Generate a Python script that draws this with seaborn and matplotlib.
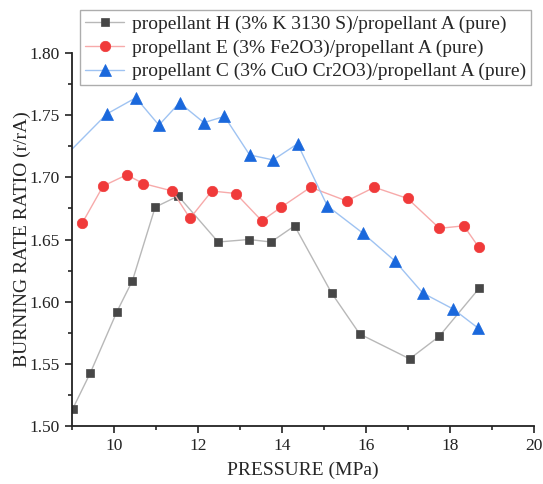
import matplotlib
matplotlib.use("Agg")
import matplotlib.pyplot as plt
import seaborn as sns
import pandas as pd
from matplotlib.ticker import MultipleLocator

sns.set_theme(style="ticks")
plt.rcParams['font.family'] = ['Liberation Serif', 'DejaVu Serif']

# Data
h_x = [9.02, 9.44, 10.07, 10.44, 10.98, 11.53, 12.48, 13.21, 13.74, 14.30, 15.18, 15.85, 17.04, 17.74, 18.70]
h_y = [1.514, 1.543, 1.592, 1.617, 1.676, 1.685, 1.648, 1.650, 1.648, 1.661, 1.607, 1.574, 1.554, 1.572, 1.611]

e_x = [9.24, 9.74, 10.30, 10.70, 11.39, 11.81, 12.33, 12.90, 13.52, 13.98, 14.68, 15.54, 16.20, 16.99, 17.75, 18.33, 18.68]
e_y = [1.663, 1.693, 1.702, 1.695, 1.689, 1.667, 1.689, 1.687, 1.665, 1.676, 1.692, 1.681, 1.692, 1.683, 1.659, 1.661, 1.644]

c_x = [8.60, 9.83, 10.52, 11.07, 11.56, 12.14, 12.63, 13.23, 13.79, 14.37, 15.08, 15.93, 16.68, 17.35, 18.08, 18.66]
c_y = [1.709, 1.751, 1.764, 1.742, 1.760, 1.744, 1.749, 1.718, 1.714, 1.727, 1.677, 1.655, 1.633, 1.607, 1.594, 1.579]

labels = ["propellant H (3% K 3130 S)/propellant A (pure)",
          "propellant E (3% Fe2O3)/propellant A (pure)",
          "propellant C (3% CuO Cr2O3)/propellant A (pure)"]

fig = plt.figure(figsize=(5.43, 4.84), dpi=100)
ax = fig.add_axes([0.1326, 0.1198, 0.8508, 0.7707])

series = [
    (h_x, h_y, labels[0], "s", "#474747", "#b8b8b8", 6),
    (e_x, e_y, labels[1], "o", "#f03a3a", "#f7aaaa", 7.5),
    (c_x, c_y, labels[2], "^", "#1a68dc", "#9fc3f2", 8.2),
]
for xs, ys, lab, mk, mc, lc, ms in series:
    df = pd.DataFrame({"x": xs, "y": ys})
    sns.lineplot(data=df, x="x", y="y", ax=ax, color=lc, lw=1.0, sort=False,
                 marker=mk, markersize=ms, markerfacecolor=mc,
                 markeredgecolor=mc, markeredgewidth=0.5, label=lab)

ax.set_xlim(9, 20)
ax.set_ylim(1.50, 1.80)
ax.xaxis.set_major_locator(MultipleLocator(2))
ax.xaxis.set_minor_locator(MultipleLocator(1))
ax.yaxis.set_major_locator(MultipleLocator(0.05))
ax.yaxis.set_minor_locator(MultipleLocator(0.025))
ax.yaxis.set_major_formatter(matplotlib.ticker.FormatStrFormatter('%.2f'))
ax.tick_params(which='major', direction='out', length=5, width=1.2, labelsize=12.5, colors='#222222')
ax.tick_params(which='minor', direction='out', length=3, width=1.2)
for s in ['left', 'bottom']:
    ax.spines[s].set_linewidth(1.3)
    ax.spines[s].set_color('#222222')
sns.despine(ax=ax)

ax.set_xlabel("PRESSURE (MPa)", fontsize=14, labelpad=6)
ax.set_ylabel("BURNING RATE RATIO (r/rA)", fontsize=14, labelpad=-1)

leg = ax.legend(loc='upper left', bbox_to_anchor=(0.018, 1.115), fontsize=14,
                frameon=True, fancybox=False, borderpad=0.25, labelspacing=0.32,
                handlelength=2.0, handletextpad=0.4, borderaxespad=0)
leg.get_frame().set_edgecolor('#999999')
leg.get_frame().set_linewidth(1.0)

fig.savefig("out.png", dpi=100)
